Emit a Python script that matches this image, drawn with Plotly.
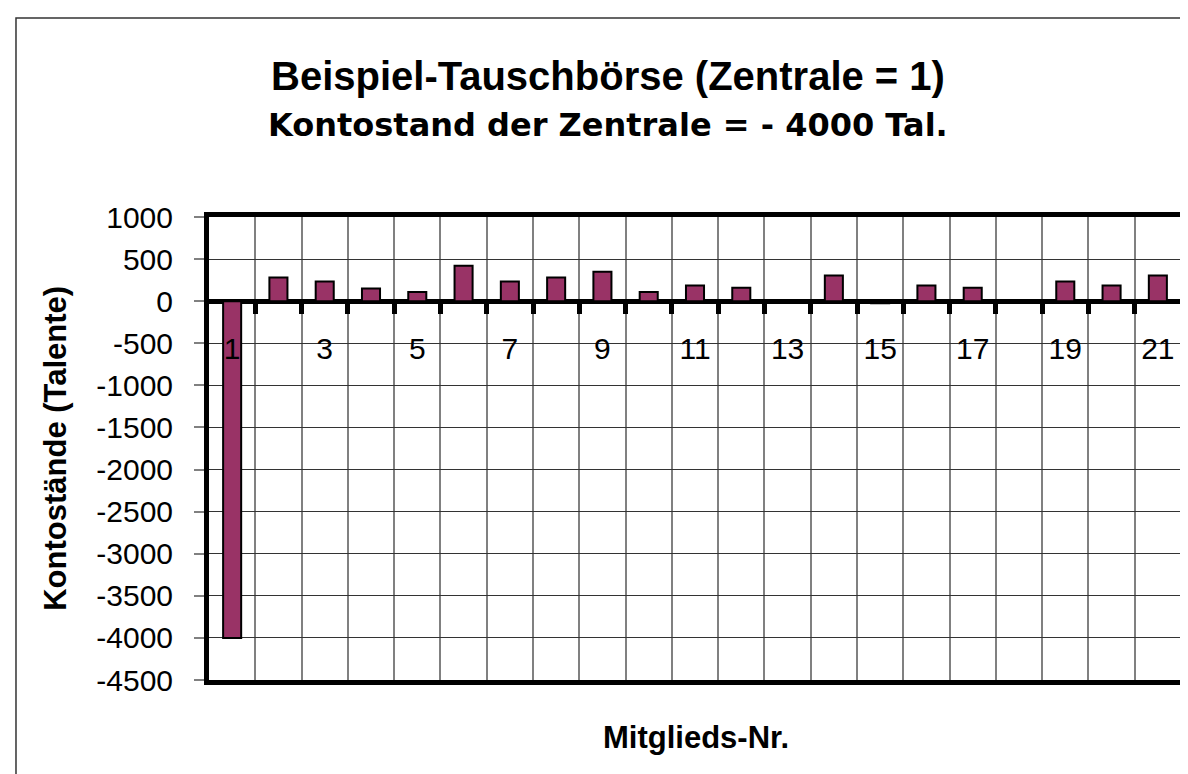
import plotly.graph_objects as go

members = list(range(1, 22))
balances = [-4000, 280, 235, 150, 110, 420, 235, 280, 350, 110, 185, 160, 0, 305, -25, 185, 160, 10, 235, 185, 305]
label_vals = list(range(1, 22, 2))
label_text = [str(v) for v in label_vals]
boundaries = [i + 0.5 for i in range(1, 21)]
y_ticks = list(range(-4500, 1001, 500))
y_tick_text = [str(v) for v in y_ticks]

W, H = 1188, 774
L, R, T, B = 201, 10, 209, 102
pw, ph = W - L - R, H - T - B

def px(x):
    return (x - L) / pw

def py(y):
    return (H - B - y) / ph

FONT = "Liberation Sans, Arial, sans-serif"

fig = go.Figure()
fig.add_trace(go.Bar(
    x=members, y=balances, width=0.39,
    marker=dict(color="#993366", line=dict(color="black", width=2)),
    showlegend=False, hoverinfo="x+y",
))
fig.add_trace(go.Scatter(x=[None], y=[None], xaxis="x2", showlegend=False, hoverinfo="skip"))

ymin, ymax = -4500, 1000
zero_pos = (0 - ymin) / (ymax - ymin)

fig.update_layout(
    width=W, height=H,
    margin=dict(l=L, r=R, t=T, b=B),
    paper_bgcolor="white", plot_bgcolor="white",
    font=dict(family=FONT, color="black"),
    xaxis=dict(
        range=[0.5, 21.5], tickmode="array", tickvals=boundaries,
        showticklabels=False, ticks="",
        showgrid=True, gridcolor="#808080", gridwidth=1.5,
        showline=True, linecolor="black", linewidth=5, mirror=True,
        zeroline=False, fixedrange=True,
    ),
    xaxis2=dict(
        overlaying="x", anchor="free", position=zero_pos, side="bottom",
        range=[0.5, 21.5], tickmode="array", tickvals=label_vals, ticktext=label_text,
        ticks="", showgrid=False, showline=False, zeroline=False,
        tickfont=dict(size=30, family=FONT, color="black"),
        ticklabelstandoff=27,
        minor=dict(tickmode="array", tickvals=boundaries, ticks="outside",
                   ticklen=12, tickwidth=5, tickcolor="black", showgrid=False),
    ),
    yaxis=dict(
        range=[ymin, ymax], tickmode="array", tickvals=y_ticks, ticktext=y_tick_text,
        ticks="outside", ticklen=10, tickcolor="#808080", tickwidth=1.5,
        tickfont=dict(size=30, family=FONT, color="black"),
        ticklabelstandoff=15,
        showgrid=True, gridcolor="#333333", gridwidth=1.2,
        showline=True, linecolor="black", linewidth=5, mirror=True,
        zeroline=True, zerolinecolor="black", zerolinewidth=5,
        fixedrange=True,
    ),
    annotations=[
        dict(text="<b>Beispiel-Tauschbörse (Zentrale = 1)</b>", x=px(602), y=py(68),
             xref="paper", yref="paper", showarrow=False, xanchor="center", yanchor="middle",
             font=dict(size=40, family=FONT, color="black")),
        dict(text="<b>Kontostand der Zentrale = - 4000 Tal.</b>", x=px(602), y=py(117),
             xref="paper", yref="paper", showarrow=False, xanchor="center", yanchor="middle",
             font=dict(size=32, family="DejaVu Sans, " + FONT, color="black")),
        dict(text="<b>Mitglieds-Nr.</b>", x=px(691), y=py(729),
             xref="paper", yref="paper", showarrow=False, xanchor="center", yanchor="middle",
             font=dict(size=31, family=FONT, color="black")),
        dict(text="<b>Kontostände (Talente)</b>", x=px(46), y=py(440), textangle=-90,
             xref="paper", yref="paper", showarrow=False, xanchor="center", yanchor="middle",
             font=dict(size=31, family=FONT, color="black")),
    ],
    shapes=[
        dict(type="rect", xref="paper", yref="paper",
             x0=px(7), y0=py(H + 20), x1=px(W + 20), y1=py(10),
             line=dict(color="#333333", width=1.5), fillcolor="rgba(0,0,0,0)", layer="below"),
    ],
)

fig.write_html("out.html")
